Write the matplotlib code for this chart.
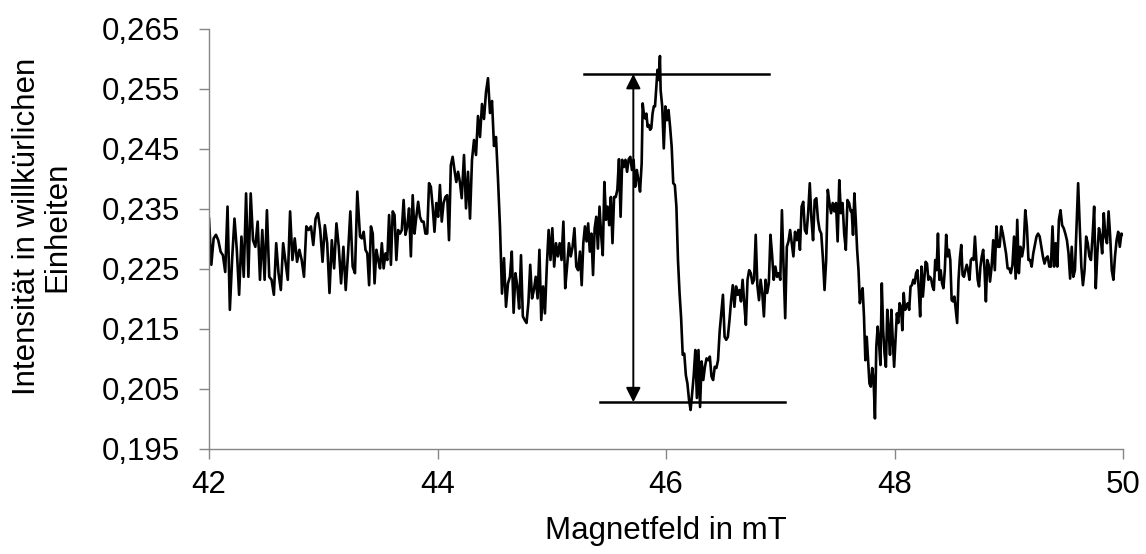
import numpy as np
import matplotlib
matplotlib.use("Agg")
import matplotlib.pyplot as plt
from matplotlib.ticker import FuncFormatter, FixedLocator

plt.rcParams['font.family'] = ['Liberation Sans', 'DejaVu Sans']

# ---- data: (start field, end field) in mT and intensities ----
seg1_range = (42.000, 43.298)
seg1 = [0.2334, 0.2257, 0.2301, 0.2307, 0.2298, 0.2279, 0.2273, 0.2245, 0.2354, 0.2182,
        0.2268, 0.2334, 0.2282, 0.2207, 0.2304, 0.2237, 0.2376, 0.2237, 0.2376, 0.2298,
        0.2287, 0.2329, 0.2232, 0.2315, 0.2232, 0.2348, 0.2237, 0.2232, 0.2207, 0.2293,
        0.2243, 0.2215, 0.2293, 0.2262, 0.2232, 0.2346, 0.2265, 0.2301, 0.2262, 0.2282,
        0.2265, 0.2237, 0.2321, 0.2315, 0.2321, 0.2290, 0.2334, 0.2343, 0.2315, 0.2262,
        0.2323, 0.2293, 0.2210, 0.2298, 0.2251, 0.2326, 0.2287, 0.2226, 0.2287, 0.2215,
        0.2276, 0.2346, 0.2254, 0.2243, 0.2379]

seg2_range = (43.322, 44.212)
seg2 = [0.2304, 0.2301, 0.2312, 0.2282, 0.2276, 0.2223, 0.2321, 0.2309, 0.2226, 0.2282,
        0.2265, 0.2251, 0.2293, 0.2251, 0.2276, 0.2265, 0.2340, 0.2257, 0.2346, 0.2340,
        0.2265, 0.2315, 0.2309, 0.2315, 0.2365, 0.2307, 0.2321, 0.2351, 0.2271, 0.2373,
        0.2309, 0.2337, 0.2362, 0.2337, 0.2329, 0.2329, 0.2309, 0.2309, 0.2393, 0.2387,
        0.2354, 0.2312, 0.2360, 0.2337, 0.2390, 0.2329, 0.2360, 0.2370, 0.2373, 0.2298,
        0.2423, 0.2437, 0.2415, 0.2395, 0.2412, 0.2395, 0.2368]

seg3_range = (44.232, 44.617)
seg3 = [0.2440, 0.2351, 0.2412, 0.2334, 0.2432, 0.2465, 0.2440, 0.2505, 0.2470, 0.2525,
        0.2500, 0.2545, 0.2568, 0.2510, 0.2530, 0.2455, 0.2470, 0.2400, 0.2320, 0.2209,
        0.2268, 0.2187, 0.2226]

seg4_range = (44.634, 45.247)
seg4 = [0.2237, 0.2279, 0.2177, 0.2243, 0.2221, 0.2184, 0.2273, 0.2171, 0.2165, 0.2160,
        0.2193, 0.2257, 0.2201, 0.2215, 0.2237, 0.2201, 0.2282, 0.2165, 0.2221, 0.2176,
        0.2254, 0.2315, 0.2265, 0.2318, 0.2254, 0.2293, 0.2271, 0.2293, 0.2265, 0.2329,
        0.2218, 0.2254, 0.2293, 0.2271, 0.2287, 0.2318, 0.2254, 0.2248, 0.2279]

seg5_range = (45.262, 45.787)
seg5 = [0.2223, 0.2293, 0.2321, 0.2296, 0.2326, 0.2279, 0.2309, 0.2240, 0.2318, 0.2337,
        0.2284, 0.2354, 0.2307, 0.2273, 0.2395, 0.2332, 0.2354, 0.2323, 0.2370, 0.2293,
        0.2370, 0.2370, 0.2382, 0.2433, 0.2337, 0.2432, 0.2420, 0.2432, 0.2412, 0.2433,
        0.2437, 0.2415, 0.2432, 0.2387, 0.2415, 0.2398, 0.2379, 0.2426]

seg6_range = (45.796, 45.947)
seg6 = [0.2526, 0.2507, 0.2501, 0.2509, 0.2487, 0.2490, 0.2482, 0.2485, 0.2509, 0.2521,
        0.2521, 0.2551, 0.2582, 0.2565, 0.2605]

seg7_range = (45.953, 46.298)
seg7 = [0.2548, 0.2521, 0.2451, 0.2521, 0.2498, 0.2515, 0.2487, 0.2454, 0.2393, 0.2390,
        0.2354, 0.2265, 0.2210, 0.2168, 0.2107, 0.2109, 0.2073, 0.2059, 0.2032, 0.2015,
        0.2043, 0.2073, 0.2115, 0.2035, 0.2115, 0.2020]

seg8_range = (46.312, 47.617)
seg8 = [0.2096, 0.2065, 0.2087, 0.2101, 0.2098, 0.2104, 0.2071, 0.2065, 0.2087, 0.2085,
        0.2098, 0.2146, 0.2176, 0.2207, 0.2137, 0.2132, 0.2137, 0.2165, 0.2198, 0.2223,
        0.2187, 0.2221, 0.2207, 0.2215, 0.2196, 0.2232, 0.2193, 0.2157, 0.2232, 0.2248,
        0.2243, 0.2226, 0.2232, 0.2307, 0.2223, 0.2198, 0.2232, 0.2210, 0.2171, 0.2232,
        0.2210, 0.2226, 0.2307, 0.2273, 0.2232, 0.2254, 0.2237, 0.2243, 0.2232, 0.2348,
        0.2254, 0.2168, 0.2287, 0.2296, 0.2315, 0.2293, 0.2271, 0.2312, 0.2298, 0.2315,
        0.2282, 0.2354, 0.2362, 0.2315, 0.2309, 0.2343, 0.2393, 0.2334, 0.2298, 0.2365,
        0.2368, 0.2332, 0.2315, 0.2309, 0.2268, 0.2215, 0.2265, 0.2382, 0.2360, 0.2343,
        0.2360, 0.2346, 0.2360, 0.2296, 0.2398, 0.2343, 0.2360, 0.2309, 0.2282, 0.2365,
        0.2360, 0.2346]

seg9_range = (47.625, 48.824)
seg9 = [0.2348, 0.2307, 0.2376, 0.2332, 0.2282, 0.2248, 0.2193, 0.2210, 0.2218, 0.2171,
        0.2098, 0.2137, 0.2098, 0.2059, 0.2054, 0.2085, 0.2065, 0.2001, 0.2121, 0.2154,
        0.2126, 0.2090, 0.2226, 0.2148, 0.2109, 0.2087, 0.2182, 0.2148, 0.2107, 0.2182,
        0.2132, 0.2087, 0.2132, 0.2176, 0.2160, 0.2193, 0.2187, 0.2148, 0.2210, 0.2182,
        0.2187, 0.2193, 0.2182, 0.2221, 0.2223, 0.2232, 0.2226, 0.2243, 0.2248, 0.2215,
        0.2171, 0.2254, 0.2204, 0.2234, 0.2262, 0.2259, 0.2232, 0.2237, 0.2234, 0.2221,
        0.2215, 0.2265, 0.2248, 0.2309, 0.2232, 0.2248, 0.2226, 0.2218, 0.2248, 0.2307,
        0.2271, 0.2282, 0.2265, 0.2198, 0.2196, 0.2204, 0.2182, 0.2160, 0.2232, 0.2268,
        0.2290, 0.2240, 0.2237, 0.2248, 0.2257, 0.2248, 0.2232, 0.2265, 0.2268, 0.2265,
        0.2304, 0.2265, 0.2232, 0.2221, 0.2254, 0.2271, 0.2282, 0.2248, 0.2196, 0.2265,
        0.2257]

seg10_range = (48.836, 50.000)
seg10 = [0.2229, 0.2254, 0.2298, 0.2248, 0.2321, 0.2287, 0.2287, 0.2321, 0.2309, 0.2293,
         0.2276, 0.2251, 0.2251, 0.2243, 0.2257, 0.2304, 0.2234, 0.2332, 0.2243, 0.2287,
         0.2271, 0.2287, 0.2348, 0.2321, 0.2265, 0.2265, 0.2254, 0.2276, 0.2290, 0.2304,
         0.2309, 0.2304, 0.2287, 0.2271, 0.2259, 0.2268, 0.2271, 0.2254, 0.2254, 0.2321,
         0.2254, 0.2293, 0.2254, 0.2332, 0.2348, 0.2323, 0.2318, 0.2309, 0.2298, 0.2276,
         0.2234, 0.2287, 0.2237, 0.2248, 0.2321, 0.2393, 0.2321, 0.2254, 0.2223, 0.2248,
         0.2304, 0.2293, 0.2271, 0.2265, 0.2304, 0.2354, 0.2218, 0.2276, 0.2318, 0.2304,
         0.2276, 0.2343, 0.2304, 0.2293, 0.2346, 0.2304, 0.2248, 0.2232, 0.2271, 0.2298,
         0.2312, 0.2287, 0.2309, 0.2307]

segments = [(seg1_range, seg1), (seg2_range, seg2), (seg3_range, seg3), (seg4_range, seg4),
            (seg5_range, seg5), (seg6_range, seg6), (seg7_range, seg7), (seg8_range, seg8),
            (seg9_range, seg9), (seg10_range, seg10)]

field = np.concatenate([np.linspace(r[0], r[1], len(v)) for r, v in segments])
intensity = np.concatenate([np.array(v) for r, v in segments])

# annotation (peak-to-peak marker) in data units
top_level = 0.2575
top_span = (45.28, 46.90)
bottom_level = 0.2028
bottom_span = (45.42, 47.04)
arrow_x = 45.714

x_ticks = [42, 44, 46, 48, 50]
y_ticks = [0.195, 0.205, 0.215, 0.225, 0.235, 0.245, 0.255, 0.265]

# ---- figure ----
fig = plt.figure(figsize=(11.46, 5.54), dpi=100)
ax = fig.add_axes([209/1146, 1 - 449/554, (1123 - 209)/1146, (449 - 29)/554])

ax.plot(field, intensity, color='black', lw=1.9, solid_joinstyle='round')

ax.plot(top_span, [top_level, top_level], color='black', lw=1.8)
ax.plot(bottom_span, [bottom_level, bottom_level], color='black', lw=1.8)
ax.annotate('', xy=(arrow_x, top_level), xytext=(arrow_x, bottom_level),
            arrowprops=dict(arrowstyle='<|-|>', color='black', lw=1.4,
                            mutation_scale=22, shrinkA=0, shrinkB=0))

ax.set_xlim(42, 50)
ax.set_ylim(0.195, 0.265)
ax.xaxis.set_major_locator(FixedLocator(x_ticks))
ax.yaxis.set_major_locator(FixedLocator(y_ticks))
ax.xaxis.set_major_formatter(FuncFormatter(lambda v, p: f"{v:.0f}"))
ax.yaxis.set_major_formatter(FuncFormatter(lambda v, p: f"{v:.3f}".replace('.', ',')))

for s in ['top', 'right']:
    ax.spines[s].set_visible(False)
for s in ['left', 'bottom']:
    ax.spines[s].set_color('#868686')
    ax.spines[s].set_linewidth(1.0)
ax.tick_params(axis='both', direction='out', length=7, width=1.0, color='#868686',
               labelsize=22.5, labelcolor='black')
ax.tick_params(axis='y', pad=14)
ax.tick_params(axis='x', pad=8)

ax.set_xlabel('Magnetfeld in mT', fontsize=22.5)
ax.xaxis.set_label_coords(0.5, -0.16)
ax.set_ylabel('Intensität in willkürlichen\nEinheiten', fontsize=22.5, multialignment='center',
              linespacing=1.0)
ax.yaxis.set_label_coords(-0.150, 0.53)

fig.savefig('out.png', dpi=100)
